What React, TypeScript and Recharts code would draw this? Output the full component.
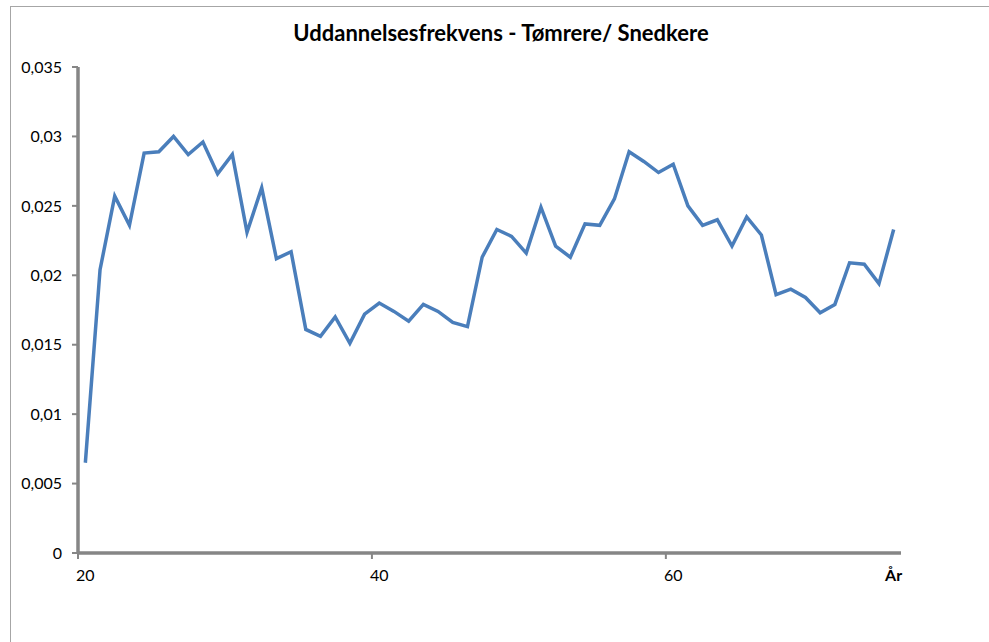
import React from 'react';
import { LineChart, Line, XAxis, YAxis } from 'recharts';

// ages (category axis) and training frequency per age
const ages = [
  20, 21, 22, 23, 24, 25, 26, 27, 28, 29,
  30, 31, 32, 33, 34, 35, 36, 37, 38, 39,
  40, 41, 42, 43, 44, 45, 46, 47, 48, 49,
  50, 51, 52, 53, 54, 55, 56, 57, 58, 59,
  60, 61, 62, 63, 64, 65, 66, 67, 68, 69,
  70, 71, 72, 73, 74, 75,
];

const frekvens = [
  0.0065, 0.0204, 0.0257, 0.0236, 0.0288, 0.0289, 0.0300, 0.0287, 0.0296, 0.0273,
  0.0287, 0.0231, 0.0263, 0.0212, 0.0217, 0.0161, 0.0156, 0.0170, 0.0151, 0.0172,
  0.0180, 0.0174, 0.0167, 0.0179, 0.0174, 0.0166, 0.0163, 0.0213, 0.0233, 0.0228,
  0.0216, 0.0249, 0.0221, 0.0213, 0.0237, 0.0236, 0.0255, 0.0289, 0.0282, 0.0274,
  0.0280, 0.0250, 0.0236, 0.0240, 0.0221, 0.0242, 0.0229, 0.0186, 0.0190, 0.0184,
  0.0173, 0.0179, 0.0209, 0.0208, 0.0194, 0.0233,
];

const xTicks = [20, 40, 60];
const xAxisTitle = 'År';
const yTicks = [0, 0.005, 0.01, 0.015, 0.02, 0.025, 0.03, 0.035];
const title = 'Uddannelsesfrekvens - Tømrere/ Snedkere';

const data = ages.map((age, i) => ({ age, value: frekvens[i] }));

const W = 989;
const H = 642;
const margin = { top: 67, right: 88, left: 18, bottom: 59 };
const Y_AXIS_W = 60;
const X_AXIS_H = 30;
const plotLeft = margin.left + Y_AXIS_W;
const plotRight = W - margin.right;
const plotBottom = H - margin.bottom - X_AXIS_H;
const halfCat = (plotRight - plotLeft) / ages.length / 2;

const AXIS = '#868686';
const FONT = 'Lato, "Open Sans", sans-serif';

const XTick = (props: any) => {
  const { x, payload } = props;
  const isTitle = payload.value === ages[ages.length - 1];
  return (
    <g>
      {!isTitle && (
        <line x1={x - halfCat} x2={x - halfCat} y1={plotBottom} y2={plotBottom + 6} stroke={AXIS} strokeWidth={2} />
      )}
      <text
        x={x}
        y={plotBottom + 17}
        dy="0.71em"
        textAnchor="middle"
        fill="#000"
        fontSize={16}
        fontWeight={isTitle ? 700 : 400}
        fontFamily={FONT}
      >
        {isTitle ? xAxisTitle : payload.value}
      </text>
    </g>
  );
};

const App = () => {
  return (
    <div style={{ position: 'fixed', left: 0, top: 0, width: W, height: H, background: '#fff', overflow: 'hidden' }}>
      <div
        style={{
          position: 'absolute',
          left: 10,
          top: 6,
          width: W + 20,
          height: H + 20,
          border: '1px solid #a6a6a6',
          boxSizing: 'border-box',
        }}
      />
      <div
        style={{
          position: 'absolute',
          left: 0,
          top: 19,
          width: 1002,
          textAlign: 'center',
          fontFamily: FONT,
          fontWeight: 700,
          fontSize: 22,
          color: '#000',
        }}
      >
        {title}
      </div>
      <div style={{ position: 'absolute', left: 0, top: 0 }}>
        <LineChart width={W} height={H} data={data} margin={margin}>
          <XAxis
            dataKey="age"
            type="number"
            domain={[19.5, 75.5]}
            ticks={[...xTicks, ages[ages.length - 1]]}
            interval={0}
            height={X_AXIS_H}
            axisLine={{ stroke: AXIS, strokeWidth: 3.5 }}
            tickLine={false}
            tick={<XTick />}
          />
          <YAxis
            type="number"
            domain={[0, 0.035]}
            ticks={yTicks}
            interval={0}
            width={Y_AXIS_W}
            axisLine={{ stroke: AXIS, strokeWidth: 3.5 }}
            tickLine={{ stroke: AXIS, strokeWidth: 2 }}
            tickSize={6}
            tickMargin={10}
            tick={{ fill: '#000', fontSize: 16, fontFamily: FONT }}
            tickFormatter={(v: number) => String(v).replace('.', ',')}
          />
          <Line
            type="linear"
            dataKey="value"
            stroke="#4a7ebb"
            strokeWidth={3.5}
            dot={false}
            isAnimationActive={false}
          />
        </LineChart>
      </div>
    </div>
  );
};

export default App;
